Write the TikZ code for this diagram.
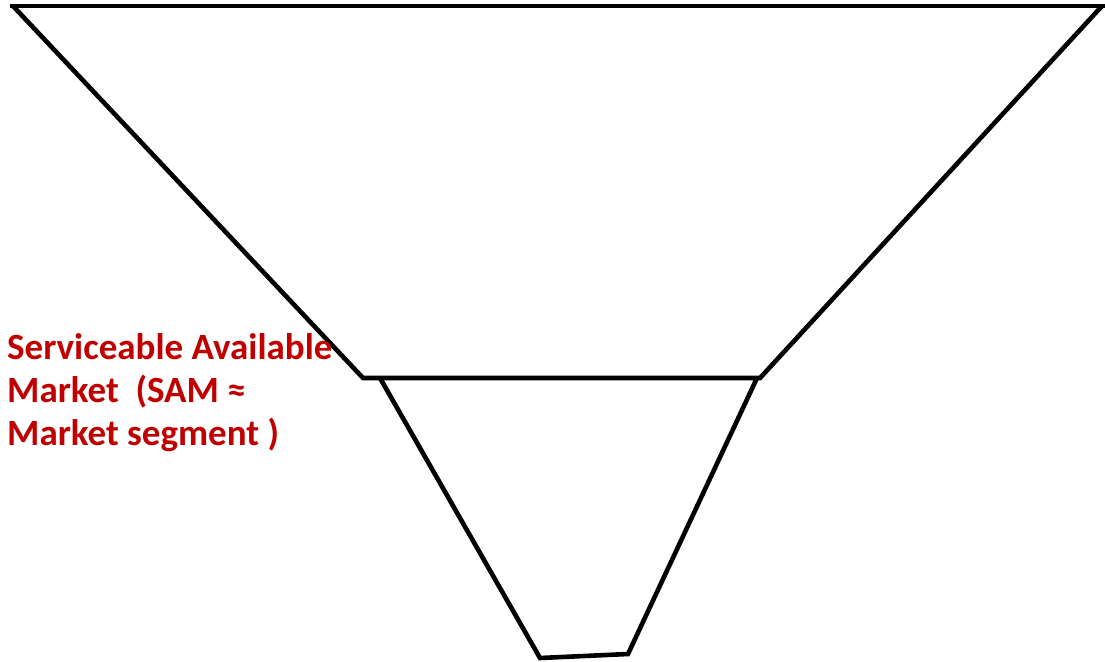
\documentclass[tikz,border=0pt]{standalone}
\usepackage{fontspec}
\setmainfont{Carlito}
\definecolor{samred}{HTML}{C00000}
\begin{document}
\begin{tikzpicture}[x=1pt,y=-1pt,
  funnel/.style={draw=black,line width=4.6pt,line join=miter},
  lbl/.style={text=samred,font=\bfseries\fontsize{37}{43}\selectfont,align=left,inner sep=0pt}]
\useasboundingbox (0,0) rectangle (1105,661);
\coordinate (tl) at (13,6);
\coordinate (tr) at (1102,6);
\coordinate (ml) at (363,378);
\coordinate (mr) at (760,378);
\coordinate (il) at (380,378);
\coordinate (ir) at (757,378);
\coordinate (bl) at (540,658);
\coordinate (br) at (628,654);
\draw[funnel] (10,6) -- (1105,6);
\draw[funnel] (tl) -- (ml) -- (mr) -- (tr);
\draw[funnel] (il) -- (bl) -- (br) -- (ir);
\node[lbl,anchor=base west] (sam) at (7,445) {Serviceable Available\\Market\ \ (SAM ≈\\Market segment )};
\end{tikzpicture}
\end{document}
